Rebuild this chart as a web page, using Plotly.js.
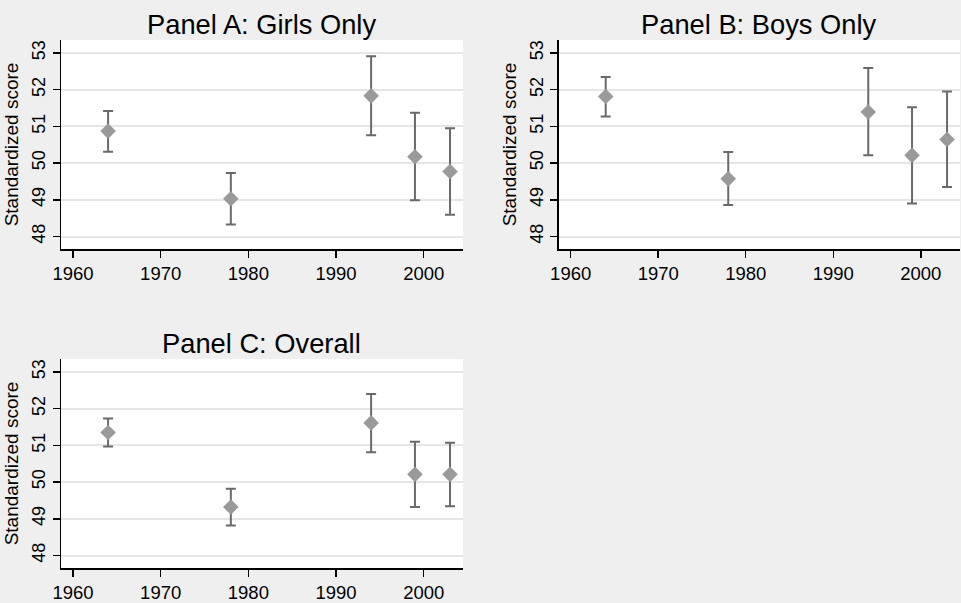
<!DOCTYPE html>
<html>
<head>
<meta charset="utf-8">
<script src="https://cdn.plot.ly/plotly-3.0.1.min.js"></script>
<style>html,body{margin:0;padding:0;background:#efefef;}#chart{width:961px;height:603px;}</style>
</head>
<body>
<div id="chart"></div>
<script>
const years = [1964, 1978, 1994, 1999, 2003];

const girlsMean  = [50.87, 49.03, 51.83, 50.17, 49.77];
const girlsUpper = [51.42, 49.73, 52.91, 51.37, 50.95];
const girlsLower = [50.31, 48.33, 50.76, 48.99, 48.59];

const boysMean  = [51.81, 49.57, 51.39, 50.21, 50.64];
const boysUpper = [52.34, 50.30, 52.59, 51.52, 51.95];
const boysLower = [51.27, 48.86, 50.21, 48.90, 49.35];

const allMean  = [51.35, 49.32, 51.61, 50.21, 50.21];
const allUpper = [51.73, 49.82, 52.40, 51.10, 51.07];
const allLower = [50.97, 48.82, 50.81, 49.32, 49.34];

const panelTitles = ["Panel A: Girls Only", "Panel B: Boys Only", "Panel C: Overall"];
const xTicks = [1960, 1970, 1980, 1990, 2000];
const yTicks = [48, 49, 50, 51, 52, 53];
const yTitle = "Standardized score";

const FONT = "Liberation Sans, Arial, sans-serif";
const W = 961, H = 603;

function mkTrace(mean, up, lo, xa, ya) {
  return {
    type: "scatter", mode: "markers", x: years, y: mean, xaxis: xa, yaxis: ya,
    marker: {symbol: "diamond", size: 12, color: "#9a9a9a", line: {width: 0}},
    error_y: {type: "data", symmetric: false,
      array: up.map((v, i) => v - mean[i]),
      arrayminus: mean.map((v, i) => v - lo[i]),
      color: "#6a6a6a", thickness: 2, width: 5},
    showlegend: false, hoverinfo: "x+y"
  };
}

const data = [
  mkTrace(girlsMean, girlsUpper, girlsLower, "x", "y"),
  mkTrace(boysMean, boysUpper, boysLower, "x2", "y2"),
  mkTrace(allMean, allUpper, allLower, "x3", "y3")
];

function xAxis(domain, anchor) {
  return {domain: domain, anchor: anchor, range: [1958.63, 2004.48],
    tickvals: xTicks, ticktext: xTicks.map(String), ticks: "outside", ticklen: 7, tickwidth: 1.5,
    tickcolor: "#000", showline: true, linecolor: "#000", linewidth: 1.5, showgrid: false,
    zeroline: false, tickfont: {family: FONT, size: 18.5, color: "#000"}, fixedrange: true};
}
function yAxis(domain, anchor) {
  return {domain: domain, anchor: anchor, range: [47.66, 53.35],
    tickvals: yTicks, ticktext: yTicks.map(String), ticks: "outside", ticklen: 7, tickwidth: 1.5,
    tickcolor: "#000", tickangle: -90, showline: true, linecolor: "#000", linewidth: 1.5,
    showgrid: true, gridcolor: "#e6e6e6", gridwidth: 2, zeroline: false,
    tickfont: {family: FONT, size: 18, color: "#000"},
    title: {text: yTitle, font: {family: FONT, size: 19, color: "#000"}, standoff: 5},
    fixedrange: true};
}

const xA = [61 / W, 463 / W], xB = [558.7 / W, 960 / W];
const yTop = [1 - 249 / H, 1 - 40 / H], yBot = [1 - 568 / H, 1 - 359 / H];

const layout = {
  width: W, height: H, margin: {l: 0, r: 0, t: 0, b: 0},
  paper_bgcolor: "#efefef", plot_bgcolor: "#ffffff",
  font: {family: FONT, color: "#000"},
  xaxis: xAxis(xA, "y"), yaxis: yAxis(yTop, "x"),
  xaxis2: xAxis(xB, "y2"), yaxis2: yAxis(yTop, "x2"),
  xaxis3: xAxis(xA, "y3"), yaxis3: yAxis(yBot, "x3"),
  annotations: [
    {text: panelTitles[0], x: (xA[0] + xA[1]) / 2, y: 1 - 24 / H},
    {text: panelTitles[1], x: (xB[0] + xB[1]) / 2, y: 1 - 24 / H},
    {text: panelTitles[2], x: (xA[0] + xA[1]) / 2, y: 1 - 343 / H}
  ].map(a => Object.assign(a, {xref: "paper", yref: "paper", showarrow: false,
      xanchor: "center", yanchor: "middle", font: {family: FONT, size: 27.3, color: "#000"}}))
};

Plotly.newPlot("chart", data, layout, {displayModeBar: false, staticPlot: true});
</script>
</body>
</html>
